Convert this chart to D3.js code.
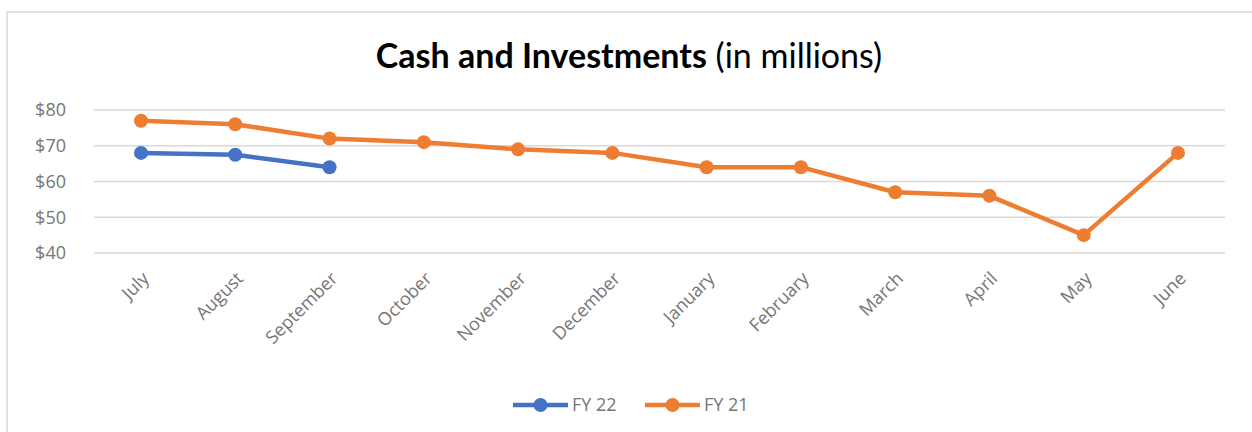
<!DOCTYPE html>
<html>
<head>
<meta charset="utf-8">
<script src="https://cdn.jsdelivr.net/npm/d3@7"></script>
<style>
  body { margin: 0; background: #fff; }
  text { font-family: "Open Sans", sans-serif; }
</style>
</head>
<body>
<div id="chart"></div>
<script>
// data
const months = ["July", "August", "September", "October", "November", "December",
                "January", "February", "March", "April", "May", "June"];
const fy22 = [68, 67.5, 64];
const fy21 = [77, 76, 72, 71, 69, 68, 64, 64, 57, 56, 45, 68];
const yTicks = [40, 50, 60, 70, 80];

const width = 1252, height = 432;
const blue = "#4472c4", orange = "#ed7d31";

let svg = d3.select("#chart").append("svg")
    .attr("width", width)
    .attr("height", height);

// chart frame
svg.append("rect")
    .attr("x", 7).attr("y", 12)
    .attr("width", width + 10).attr("height", height + 10)
    .attr("fill", "none")
    .attr("stroke", "#d9d9d9")
    .attr("stroke-width", 1.5);

// title, sized to match the original width
let title = svg.append("text")
    .attr("x", 629).attr("y", 68)
    .attr("text-anchor", "middle")
    .style("font-family", "Lato, sans-serif")
    .style("font-size", "28px")
    .attr("fill", "#000");
title.append("tspan").attr("font-weight", "bold").text("Cash and Investments");
title.append("tspan").text(" (in millions)");
let tw = title.node().getComputedTextLength();
title.style("font-size", Math.min(34, 28 * 522 / tw) + "px");

let x = d3.scalePoint()
    .domain(months)
    .range([141, 1178]);

let y = d3.scaleLinear()
    .domain([40, 80])
    .range([253, 110]);

// grid
svg.append("g")
    .selectAll("line")
    .data(yTicks)
  .enter()
    .append("line")
    .attr("x1", 94).attr("x2", 1225)
    .attr("y1", d => y(d)).attr("y2", d => y(d))
    .attr("stroke", "#d9d9d9")
    .attr("stroke-width", 1.3);

// y axis
let yAxis = svg.append("g")
    .attr("transform", "translate(66,0)")
    .call(d3.axisLeft(y).tickValues(yTicks).tickSize(0).tickFormat(d => "$" + d));
yAxis.select(".domain").remove();
yAxis.selectAll("text")
    .attr("x", 0)
    .attr("fill", "#767676")
    .style("font-size", "18px");

// x axis
let xAxis = svg.append("g")
    .attr("transform", "translate(0,262)")
    .call(d3.axisBottom(x).tickSize(0));
xAxis.select(".domain").remove();
xAxis.selectAll("text")
    .attr("fill", "#767676")
    .style("font-size", "18px")
    .style("text-anchor", "end")
    .attr("dy", "0.35em")
    .attr("transform", "translate(2,11) rotate(-45)");

let line = d3.line()
    .x((d, i) => x(months[i]))
    .y(d => y(d));

function drawSeries(values, color) {
    svg.append("path")
        .datum(values)
        .attr("d", line)
        .attr("fill", "none")
        .attr("stroke", color)
        .attr("stroke-width", 4.5)
        .attr("stroke-linejoin", "round");
    svg.append("g")
        .selectAll("circle")
        .data(values)
      .enter()
        .append("circle")
        .attr("cx", (d, i) => x(months[i]))
        .attr("cy", d => y(d))
        .attr("r", 7)
        .attr("fill", color);
}

drawSeries(fy21, orange);
drawSeries(fy22, blue);

// legend
const legend = [{name: "FY 22", color: blue, x: 513}, {name: "FY 21", color: orange, x: 645}];
let lg = svg.append("g")
    .selectAll("g")
    .data(legend)
  .enter()
    .append("g")
    .attr("transform", d => "translate(" + d.x + ",405)");
lg.append("line")
    .attr("x1", 0).attr("x2", 55)
    .attr("stroke", d => d.color)
    .attr("stroke-width", 4.5);
lg.append("circle")
    .attr("cx", 27.5).attr("r", 7)
    .attr("fill", d => d.color);
lg.append("text")
    .attr("x", 59).attr("dy", "0.35em")
    .attr("fill", "#767676")
    .style("font-size", "18px")
    .text(d => d.name);
</script>
</body>
</html>
